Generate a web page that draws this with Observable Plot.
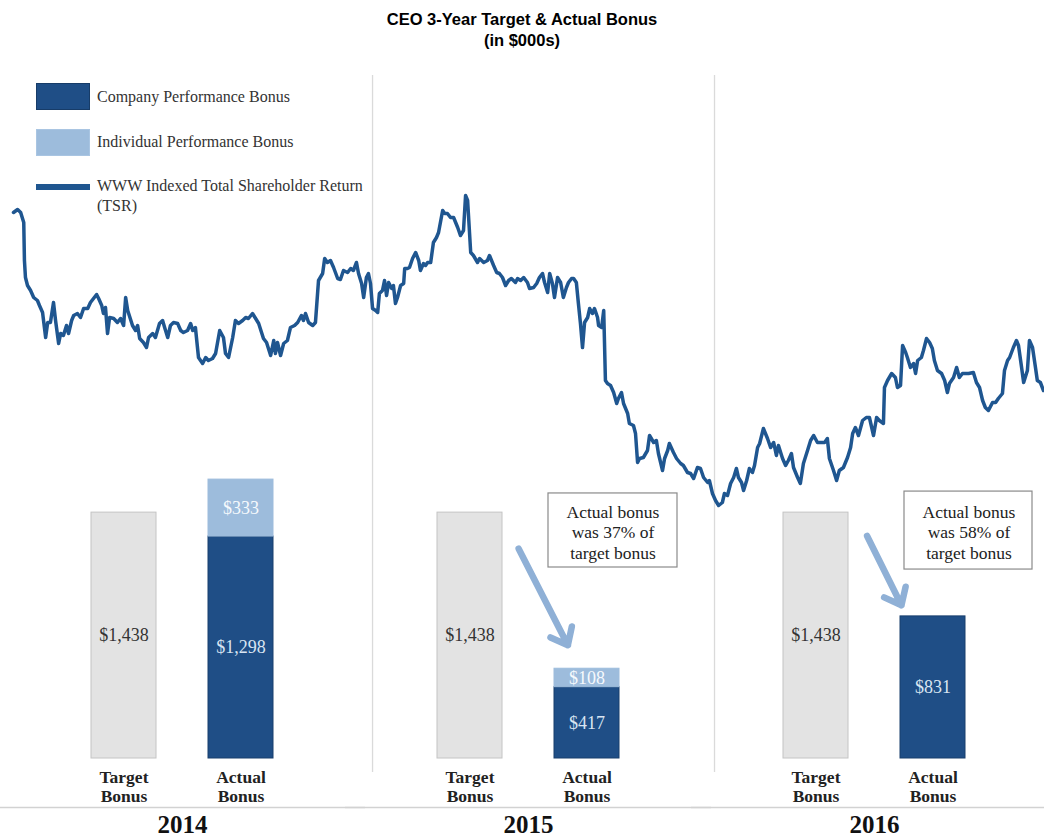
<!DOCTYPE html>
<html>
<head>
<meta charset="utf-8">
<script src="https://cdn.jsdelivr.net/npm/d3@7"></script>
<script src="https://cdn.jsdelivr.net/npm/@observablehq/plot@0.6"></script>
<style>
  body { margin: 0; background: #fff; width: 1044px; height: 838px; overflow: hidden; }
  #title { height: 60px; box-sizing: border-box; padding-top: 9px; text-align: center;
           font: bold 16.5px/21px "Liberation Sans", Arial, sans-serif; color: #000; }
  #chart { position: relative; width: 1044px; height: 778px; }
  #chart svg { position: absolute; left: 0; top: 0; }
  .lg { position: absolute; font: 16px/20px "Liberation Serif", "Times New Roman", serif; color: #333; white-space: nowrap; }
  .sw { position: absolute; box-sizing: border-box; }
</style>
</head>
<body>
<div id="title">CEO 3-Year Target &amp; Actual Bonus<br>(in $000s)</div>
<div id="chart"></div>
<script>
// ---------- data ----------
const years = ["2014", "2015", "2016"];
const barKinds = ["Target Bonus", "Actual Bonus"];
const targetBonus = [1438, 1438, 1438];
const companyBonus = [1298, 417, 831];
const individualBonus = [333, 108, 0];

const legendLabels = ["Company Performance Bonus", "Individual Performance Bonus", "WWW Indexed Total Shareholder Return", "(TSR)"];

// annotations (data units of the bonus scale)
const annoYears = ["2015", "2016"];
const annoBoxBottom = [1117, 1105];
const annoBoxTop = [1550, 1561];
const annoTextY = [1327, 1327];
const arrowFrom = [1784, 1904];
const arrowTo = [444, 524];

// WWW indexed TSR (time in decimal years, index)
const tsrTime = [2013.950,2013.962,2013.971,2013.980,2013.982,2013.985,2013.991,2014.000,2014.009,2014.020,2014.026,2014.035,2014.044,2014.050,2014.058,2014.067,2014.073,2014.082,2014.088,2014.096,2014.105,2014.111,2014.120,2014.126,2014.137,2014.146,2014.155,2014.167,2014.175,2014.193,2014.199,2014.208,2014.213,2014.219,2014.225,2014.231,2014.243,2014.254,2014.263,2014.272,2014.278,2014.284,2014.298,2014.307,2014.313,2014.319,2014.330,2014.339,2014.345,2014.357,2014.365,2014.377,2014.386,2014.392,2014.401,2014.409,2014.418,
2014.430,2014.439,2014.447,2014.459,2014.468,2014.474,2014.482,2014.491,2014.503,2014.512,2014.520,2014.532,2014.541,2014.553,2014.564,2014.570,2014.579,2014.591,2014.599,2014.608,2014.620,2014.629,2014.637,2014.649,2014.658,2014.667,2014.681,2014.690,2014.702,2014.711,2014.716,2014.722,2014.731,2014.740,2014.751,2014.760,2014.772,2014.781,2014.792,2014.798,2014.804,2014.813,2014.825,2014.833,2014.842,2014.854,2014.860,2014.868,2014.877,2014.886,2014.898,2014.906,2014.915,
2014.927,2014.936,2014.944,2014.953,2014.959,2014.968,2014.974,2014.982,2014.988,2014.994,2015.000,2015.009,2015.015,2015.020,2015.029,2015.035,2015.041,2015.047,2015.056,2015.061,2015.067,2015.073,2015.082,2015.091,2015.094,2015.102,2015.108,2015.117,2015.126,2015.135,2015.140,2015.149,2015.155,2015.161,2015.170,2015.178,2015.187,2015.193,2015.205,2015.211,2015.219,2015.228,2015.237,2015.249,2015.257,2015.266,2015.272,2015.278,2015.287,2015.295,2015.307,2015.313,2015.325,2015.336,2015.342,2015.354,2015.363,2015.371,2015.380,2015.389,2015.398,2015.406,2015.418,
2015.424,2015.433,2015.442,2015.453,2015.459,2015.471,2015.480,2015.488,2015.497,2015.503,2015.512,2015.518,2015.526,2015.532,2015.541,2015.550,2015.558,2015.567,2015.573,2015.582,2015.588,2015.596,2015.602,2015.608,2015.614,2015.620,2015.629,2015.635,2015.643,2015.649,2015.658,2015.661,2015.670,2015.676,2015.681,2015.687,2015.696,2015.705,2015.714,2015.719,2015.728,2015.734,2015.746,2015.751,2015.763,2015.769,2015.775,2015.781,2015.792,2015.804,2015.810,2015.822,2015.830,2015.836,2015.848,2015.854,2015.863,2015.868,2015.880,2015.889,2015.901,2015.909,
2015.921,2015.930,2015.939,2015.950,2015.959,2015.968,2015.980,2015.985,2015.994,2016.003,2016.012,2016.023,2016.029,2016.038,2016.047,2016.056,2016.064,2016.070,2016.079,2016.085,2016.094,2016.102,2016.111,2016.117,2016.126,2016.132,2016.143,2016.149,2016.155,2016.164,2016.173,2016.181,2016.187,2016.199,2016.208,2016.216,2016.225,2016.231,2016.243,2016.251,2016.260,2016.272,2016.281,2016.290,2016.301,2016.310,2016.322,2016.330,2016.336,2016.348,2016.357,2016.365,2016.377,2016.389,2016.398,2016.404,2016.412,2016.421,2016.433,2016.444,2016.453,2016.465,2016.474,2016.482,2016.494,2016.497,2016.506,2016.518,2016.529,2016.535,2016.544,2016.550,2016.559,2016.564,2016.573,2016.582,2016.588,2016.594,2016.605,2016.611,2016.620,2016.629,2016.637,2016.643,2016.652,2016.664,2016.673,2016.681,2016.687,2016.699,2016.708,2016.716,2016.725,2016.734,2016.743,2016.757,2016.766,2016.775,2016.784,2016.792,2016.801,2016.813,2016.822,2016.830,2016.842,2016.848,2016.857,2016.863,2016.874,2016.883,2016.889,2016.898,2016.904,2016.915,2016.921,2016.930,2016.939,2016.944,2016.953,2016.962];
const tsrIndex = [99.6,100.2,99.6,97.6,90.0,86.6,85.0,84.0,82.6,82.0,81.0,79.6,74.6,77.6,77.6,81.6,78.0,73.4,75.4,75.0,77.0,75.4,78.0,79.0,79.4,78.6,80.4,80.4,81.6,83.2,82.4,81.0,79.4,80.6,75.4,78.6,78.4,77.6,78.4,77.0,82.6,80.0,77.0,76.0,77.0,74.4,73.6,72.6,74.6,75.4,74.6,77.4,78.0,76.6,74.6,77.0,77.6,
77.4,76.0,75.6,76.0,77.4,76.0,76.6,70.6,69.4,70.6,70.0,70.4,71.4,76.0,74.6,71.4,70.6,74.6,78.0,77.4,78.0,78.6,78.4,79.4,78.4,77.4,74.4,73.6,71.0,74.0,71.4,73.6,71.0,73.4,74.0,76.6,77.0,77.6,79.0,78.0,79.4,77.6,77.0,77.6,86.0,87.4,90.4,89.6,90.0,88.6,86.4,86.2,88.0,
87.6,88.4,88.0,89.6,87.4,85.4,82.6,86.6,87.4,85.4,80.4,80.0,79.6,83.4,84.0,86.0,83.0,85.6,84.4,85.0,81.4,82.6,85.0,85.4,88.4,88.4,88.6,90.4,91.6,90.0,88.0,89.4,89.0,89.6,89.6,93.6,94.6,95.6,100.0,99.4,99.4,98.6,98.6,96.6,95.0,96.0,103.0,102.0,91.6,91.0,89.6,90.4,89.6,90.0,91.0,89.0,87.6,87.4,86.6,85.0,86.0,86.4,85.6,
86.4,86.0,86.6,85.6,84.4,84.6,85.4,86.6,87.4,85.6,83.6,87.4,85.4,82.6,86.6,85.6,82.6,84.6,85.6,86.4,86.4,85.6,81.4,77.4,72.6,77.6,78.6,80.4,79.4,80.4,78.6,77.0,76.6,80.0,66.0,65.4,65.0,63.6,61.4,62.4,63.6,61.4,59.4,57.4,57.0,55.4,49.6,50.4,50.6,52.0,55.0,53.6,54.0,51.4,48.0,50.4,52.0,53.4,51.6,50.4,49.4,49.0,
47.6,47.4,46.4,48.6,48.4,46.6,45.6,46.0,43.4,42.0,41.0,41.6,43.4,43.0,45.4,46.6,48.4,46.6,45.6,44.0,46.0,48.4,47.6,49.0,52.6,53.4,56.4,55.4,54.4,52.6,53.6,51.0,53.0,50.4,49.0,50.0,51.4,48.6,46.6,45.4,49.4,52.0,54.0,55.0,53.6,53.6,53.6,54.4,50.4,48.0,46.0,48.0,48.6,50.6,52.6,55.4,56.6,55.0,58.0,58.6,58.6,55.0,58.6,58.0,57.4,64.6,66.0,67.4,66.6,64.6,65.0,73.0,71.6,70.6,68.6,69.4,67.4,70.0,70.6,72.0,74.4,73.6,72.4,70.0,68.0,67.4,66.0,63.6,65.4,66.6,68.6,66.6,67.4,67.4,67.4,67.6,65.6,64.6,62.0,60.6,60.0,61.6,61.6,62.4,63.4,68.0,70.0,70.6,72.6,74.0,73.0,68.6,65.6,68.0,74.0,72.6,68.4,66.0,65.6,64.0];
const yearStarts = [2015, 2016];

// ---------- styles ----------
const serif = "'Liberation Serif', 'Times New Roman', serif";
const fillOf = {Target: "#e3e3e3", Company: "#1f4e86", Individual: "#9dbcdc"};
const strokeOf = {Target: "#c4c4c4", Company: "#183f6d", Individual: "#9dbcdc"};
const labelOf = {Target: "#333333", Company: "#d9e5f2", Individual: "#f6f9fc"};
const tsrColor = "#1f5690";
const arrowColor = "#8fb0d6";
const annoStyle = {
  "2015": {insetLeft: -6, insetRight: -58, dx: 26, insetStart: 107, insetEnd: 42},
  "2016": {insetLeft: 4, insetRight: -67, dx: 36, insetStart: 115, insetEnd: 71}
};

// ---------- tables ----------
const fmt = d3.format("$,");
const rows = years.flatMap((year, i) => [
  {year, kind: barKinds[0], part: "Target", value: targetBonus[i]},
  {year, kind: barKinds[1], part: "Company", value: companyBonus[i]},
  {year, kind: barKinds[1], part: "Individual", value: individualBonus[i]}
]).filter(d => d.value > 0);
const catLabels = years.flatMap(year => barKinds.map(kind => ({year, kind})));
const annos = annoYears.map((year, i) => {
  const yi = years.indexOf(year);
  const pct = Math.round(100 * (companyBonus[yi] + individualBonus[yi]) / targetBonus[yi]);
  return {year, from: barKinds[0], kind: barKinds[1], bottom: annoBoxBottom[i], top: annoBoxTop[i],
          ty: annoTextY[i], a1: arrowFrom[i], a2: arrowTo[i],
          text: `Actual bonus\nwas ${pct}% of\ntarget bonus`};
});
const tsr = tsrTime.map((t, i) => ({t, v: tsrIndex[i]}));

// ---------- annotation marks ----------
const annoMarks = annos.flatMap(a => {
  const s = annoStyle[a.year];
  return [
    Plot.arrow([a], {fx: "year", x1: "from", x2: "kind", y1: "a1", y2: "a2", stroke: arrowColor,
      strokeWidth: 6.5, headLength: 4.4, headAngle: 78, insetStart: s.insetStart, insetEnd: s.insetEnd}),
    Plot.barY([a], {fx: "year", x: "kind", y1: "bottom", y2: "top", fill: "white", stroke: "#8a8a8a",
      strokeWidth: 1.2, insetLeft: s.insetLeft, insetRight: s.insetRight}),
    Plot.text([a], {fx: "year", x: "kind", y: "ty", text: "text", dx: s.dx, fontSize: 17.5,
      lineHeight: 1.17, fill: "#222"})
  ];
});

// ---------- bars plot ----------
const bars = Plot.plot({
  width: 1044, height: 778,
  marginTop: 0, marginBottom: 80, marginLeft: 8, marginRight: -4,
  fx: {domain: years, padding: 0, axis: null},
  x: {domain: barKinds, paddingInner: 0.441, paddingOuter: 0.689, axis: null},
  y: {domain: [0, 4082], axis: null},
  style: {fontFamily: serif, background: "transparent", overflow: "visible"},
  marks: [
    Plot.ruleY([0], {dy: 49, stroke: "#d2d2d2", strokeWidth: 1.5, insetLeft: -10, insetRight: -10}),
    Plot.barY(rows, {fx: "year", x: "kind", y: "value", fill: d => fillOf[d.part], stroke: d => strokeOf[d.part], strokeWidth: 1}),
    Plot.text(rows, Plot.stackY({fx: "year", x: "kind", y: "value", text: d => fmt(d.value),
      fill: d => labelOf[d.part], fontSize: 18})),
    Plot.text(catLabels, {fx: "year", x: "kind", text: d => d.kind.replace(" ", "\n"), frameAnchor: "bottom",
      lineAnchor: "top", dy: 11, fontSize: 17.5, fontWeight: "bold", lineHeight: 1.1, fill: "#222"}),
    Plot.text(years, {fx: d => d, text: d => d, frameAnchor: "bottom", lineAnchor: "top", dy: 57,
      fontSize: 25, fontWeight: "bold", fill: "#111"}),
    ...annoMarks
  ]
});

// ---------- TSR plot ----------
const line = Plot.plot({
  width: 1044, height: 778,
  marginTop: 15, marginBottom: 66, marginLeft: 0, marginRight: 0,
  x: {domain: [2013.912, 2016.965], axis: null},
  y: {domain: [40, 100], range: [450, 150], axis: null},
  style: {background: "transparent", overflow: "visible"},
  marks: [
    Plot.ruleX(yearStarts, {stroke: "#dadada", strokeWidth: 1.3}),
    Plot.line(tsr, {x: "t", y: "v", stroke: tsrColor, strokeWidth: 3.5, strokeLinejoin: "round", strokeLinecap: "round"})
  ]
});

const chart = document.getElementById("chart");
chart.appendChild(bars);
chart.appendChild(line);

// ---------- legend ----------
function add(cls, css, html) {
  const el = document.createElement("div");
  el.className = cls;
  Object.assign(el.style, css);
  if (html != null) el.innerHTML = html;
  chart.appendChild(el);
}
add("sw", {left: "36px", top: "23px", width: "54px", height: "27px", background: fillOf.Company, border: "1px solid #173c68"});
add("lg", {left: "97px", top: "27px"}, legendLabels[0]);
add("sw", {left: "36px", top: "69px", width: "54px", height: "27px", background: fillOf.Individual, border: "1px solid #a9c5e2"});
add("lg", {left: "97px", top: "72px"}, legendLabels[1]);
add("sw", {left: "36px", top: "124px", width: "54px", height: "6px", background: tsrColor});
add("lg", {left: "97px", top: "116px"}, legendLabels[2] + "<br>" + legendLabels[3]);
</script>
</body>
</html>
